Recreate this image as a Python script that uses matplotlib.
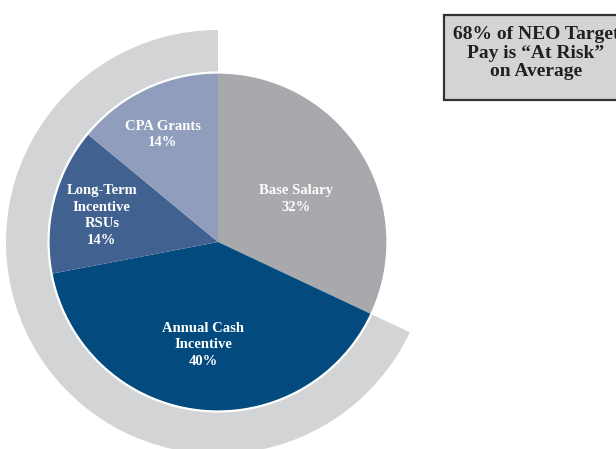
import numpy as np
import matplotlib
matplotlib.use("Agg")
import matplotlib.pyplot as plt
from matplotlib.patches import Wedge, Rectangle, Circle

# Pay mix data (percent of target pay)
categories = ["Base Salary", "Annual Cash\nIncentive", "Long-Term\nIncentive\nRSUs", "CPA Grants"]
shares = [32, 40, 14, 14]
at_risk_share = 68
callout_text = "68% of NEO Target\nPay is \u201cAt Risk\u201d\non Average"

# Styling
slice_colors = ["#A8A9AC", "#034B7E", "#416290", "#909DBC"]
ring_color = "#D3D4D6"
label_radius = [0.53, 0.615, 0.705, 0.715]   # label distance as fraction of pie radius
label_turn = [-3.5, -1.0, 1.5, 2.0]          # small angular nudges of the labels (degrees)

W, H = 616, 449
fig = plt.figure(figsize=(W / 100, H / 100), dpi=100)
ax = fig.add_axes([0, 0, 1, 1])

cx, cy = 218, H - 242
r_pie = 169
r_ring = 212

# Outer ring marking the at-risk portion, running clockwise from the end of base salary to the top
ring = Wedge((cx, cy), r_ring, 90, 90 + 360 * at_risk_share / 100,
             width=r_ring - r_pie, facecolor=ring_color, edgecolor="none")
ax.add_patch(ring)

ax.pie(shares, colors=slice_colors, startangle=90, counterclock=False,
       center=(cx, cy), radius=r_pie, frame=True,
       wedgeprops=dict(linewidth=0, edgecolor="none"))
ax.set_xlim(0, W)
ax.set_ylim(0, H)
ax.set_aspect("equal")
ax.axis("off")

# thin white rim between pie and ring
ax.add_patch(Circle((cx, cy), r_pie + 0.5, facecolor="none", edgecolor="white", linewidth=1.6))

font = dict(family=["Liberation Serif", "DejaVu Serif"], weight="bold")

cum = 0
for name, val, frac, turn in zip(categories, shares, label_radius, label_turn):
    mid = 90 - 360 * (cum + val / 2) / 100 + turn
    cum += val
    x = cx + frac * r_pie * np.cos(np.radians(mid))
    y = cy + frac * r_pie * np.sin(np.radians(mid))
    ax.text(x, y, f"{name}\n{val}%", ha="center", va="center", color="white",
            fontsize=10.5, linespacing=1.36, **font)

# Callout box, running off the right edge
ax.add_patch(Rectangle((444, H - 100), 200, 85, facecolor="#D4D4D6",
                       edgecolor="#333333", linewidth=1.6, clip_on=True))
ax.text(536, H - 53, callout_text, ha="center", va="center", color="#231F20",
        fontsize=14, linespacing=1.08, **font)

fig.savefig("out.png", dpi=100)
